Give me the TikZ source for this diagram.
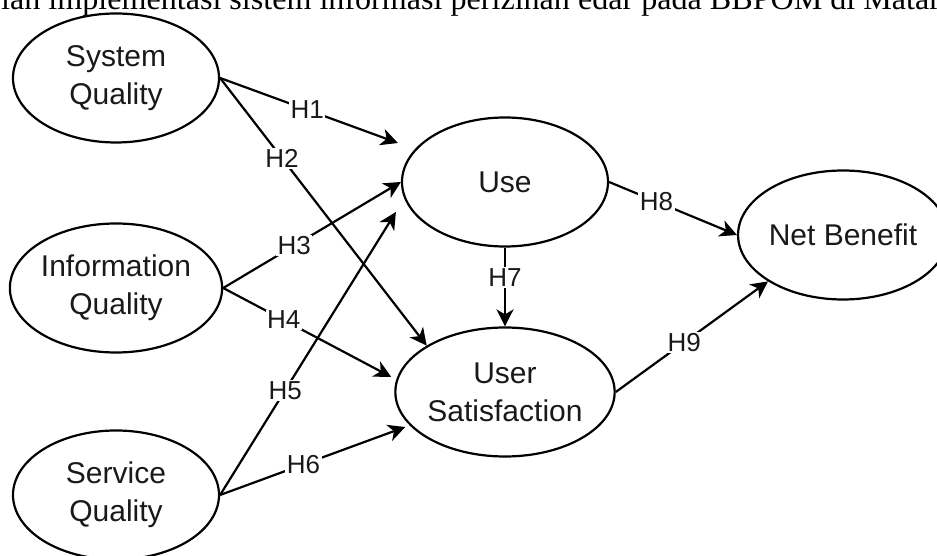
\documentclass[tikz,border=0pt]{standalone}
\usepackage{fontspec}
\setmainfont{Liberation Sans}
\newfontfamily\serifcut{Liberation Serif}
\usetikzlibrary{shapes.geometric, arrows.meta}

\begin{document}
\begin{tikzpicture}[x=1pt, y=1pt,
            var/.style={ellipse, draw=black, line width=2.2pt, minimum width=206pt, minimum height=129pt, inner sep=0pt, align=center, text=black!90, font=\fontsize{30}{38}\selectfont},
            hyp/.style={draw=black, line width=2.2pt, -{Stealth[length=17pt, width=17pt, inset=5pt]}},
            lbl/.style={fill=white, inner sep=1.5pt, text=black!90, font=\fontsize{26}{26}\selectfont}]
            \useasboundingbox (0,0) rectangle (937,556);
            \clip (0,0) rectangle (937,556);
            % cut-off caption line at the top
            \node[anchor=base west, inner sep=0pt, font=\serifcut\fontsize{32.1}{32.1}\selectfont] (title) at (1,546) {ian implementasi sistem informasi perizinan edar pada BBPOM di Matar};
            % constructs
            \node[var] (sys) at (116,478) {System\\Quality};
            \node[var] (inf) at (116,268) {Information\\Quality};
            \node[var] (srv) at (116,61)  {Service\\Quality};
            \node[var] (use) at (505,374) {Use};
            \node[var] (sat) at (505,164) {User\\Satisfaction};
            \node[var] (net) at (843,321) {Net Benefit};
            % hypotheses
            \draw[hyp] (sys.east) -- node[lbl, pos=0.49] {H1} ([shift={(-3,39)}]use.west);
            \draw[hyp] (sys.east) -- node[lbl, pos=0.3]  {H2} (sat.north west);
            \draw[hyp] (inf.east) -- node[lbl, pos=0.4]  {H3} (use.west);
            \draw[hyp] (inf.east) -- node[lbl, pos=0.36] {H4} ([shift={(-3,15)}]sat.west);
            \draw[hyp] (srv.east) -- node[lbl, pos=0.37] {H5} ([shift={(-5,-30)}]use.west);
            \draw[hyp] (srv.east) -- node[lbl, pos=0.45] {H6} ([shift={(11,-35)}]sat.west);
            \draw[hyp] (use.south) -- node[lbl, pos=0.38] {H7} (sat.north);
            \draw[hyp] (use.east) -- node[lbl, pos=0.37] {H8} (net.west);
            \draw[hyp] (sat.east) -- node[lbl, pos=0.45] {H9} (net.south west);
        \end{tikzpicture}
\end{document}
